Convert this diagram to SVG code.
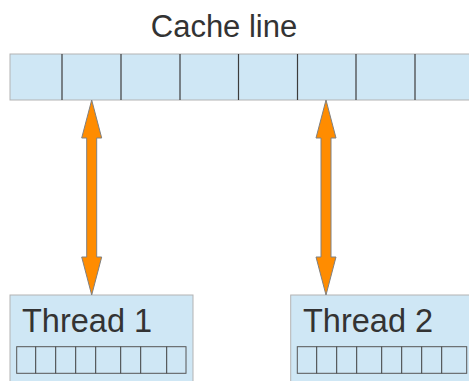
<svg xmlns="http://www.w3.org/2000/svg" width="469" height="381" viewBox="0 0 469 381">
<style>
.box{fill:#cfe7f5;stroke:#b3b3b3;stroke-width:1}
.div{stroke:#3c3c3c;stroke-width:1.2}
.cell{fill:#cfe7f5;stroke:#555;stroke-width:1}
.lbl{font-family:"Liberation Sans",Arial,sans-serif;font-size:31px;fill:#333}
.tl{font-size:32.5px}
.arr{fill:#ff8c00;stroke:#808080;stroke-width:1}
</style>
<rect width="469" height="381" fill="#fff"/>
<g id="cacheline">
<text class="lbl" x="224" y="37" text-anchor="middle">Cache line</text>
<rect class="box" x="10" y="54" width="470" height="46"/>
<g class="div">
<line x1="62" y1="54" x2="62" y2="100"/>
<line x1="121" y1="54" x2="121" y2="100"/>
<line x1="180" y1="54" x2="180" y2="100"/>
<line x1="238.5" y1="54" x2="238.5" y2="100"/>
<line x1="297.5" y1="54" x2="297.5" y2="100"/>
<line x1="356" y1="54" x2="356" y2="100"/>
<line x1="415" y1="54" x2="415" y2="100"/>
</g>
</g>
<g id="thread1">
<rect class="box" x="10" y="295" width="183" height="100"/>
<text class="lbl tl" x="22" y="331.5">Thread 1</text>
<rect class="cell" x="16.7" y="346.7" width="169.3" height="26.6"/>
<g class="div" style="stroke-width:1">
<line x1="35.7" y1="346.7" x2="35.7" y2="373.3"/>
<line x1="55.7" y1="346.7" x2="55.7" y2="373.3"/>
<line x1="75.7" y1="346.7" x2="75.7" y2="373.3"/>
<line x1="95.7" y1="346.7" x2="95.7" y2="373.3"/>
<line x1="120.7" y1="346.7" x2="120.7" y2="373.3"/>
<line x1="140.7" y1="346.7" x2="140.7" y2="373.3"/>
<line x1="166.7" y1="346.7" x2="166.7" y2="373.3"/>
</g>
</g>
<g id="thread2">
<rect class="box" x="290.7" y="295" width="190" height="100"/>
<text class="lbl tl" x="303" y="331.5">Thread 2</text>
<rect class="cell" x="297.3" y="346.7" width="169.4" height="26.6"/>
<g class="div" style="stroke-width:1">
<line x1="316.7" y1="346.7" x2="316.7" y2="373.3"/>
<line x1="336.7" y1="346.7" x2="336.7" y2="373.3"/>
<line x1="356.7" y1="346.7" x2="356.7" y2="373.3"/>
<line x1="381.7" y1="346.7" x2="381.7" y2="373.3"/>
<line x1="401.7" y1="346.7" x2="401.7" y2="373.3"/>
<line x1="421.7" y1="346.7" x2="421.7" y2="373.3"/>
<line x1="441.7" y1="346.7" x2="441.7" y2="373.3"/>
</g>
</g>
<g id="connectors">
<path class="arr" d="M91.7,100 L101.7,138 L96.7,138 L96.7,257 L101.7,257 L91.7,295 L81.7,257 L86.7,257 L86.7,138 L81.7,138 Z"/>
<path class="arr" d="M326,100 L336,138 L331,138 L331,257 L336,257 L326,295 L316,257 L321,257 L321,138 L316,138 Z"/>
</g>
</svg>
